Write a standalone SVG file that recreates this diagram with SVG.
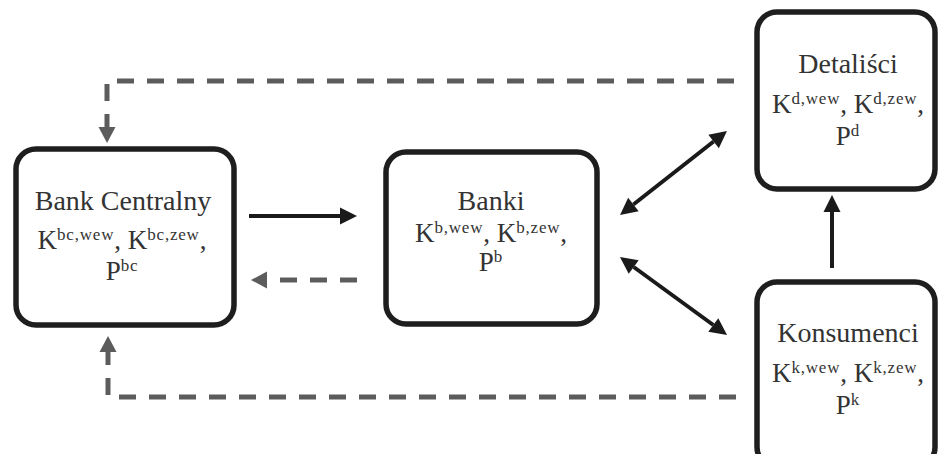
<svg xmlns="http://www.w3.org/2000/svg" width="938" height="454" viewBox="0 0 938 454">
  <style>
    .box { fill: #ffffff; stroke: #1e1e1e; stroke-width: 5.5; }
    text { font-family: 'Liberation Serif', 'DejaVu Serif', serif; fill: #333333; text-anchor: middle; }
    .title { font-size: 28px; }
    .vars { font-size: 27px; }
    .sup { font-size: 17px; letter-spacing: 0.8px; }
    .solid { fill: none; stroke: #1a1a1a; stroke-width: 4; }
    .dash { fill: none; stroke: #5c5c5c; stroke-width: 5; stroke-dasharray: 17 13; }
  </style>
  <defs>
    <marker id="head-black" markerUnits="userSpaceOnUse" markerWidth="18" markerHeight="18" refX="0" refY="8.5" orient="auto-start-reverse" overflow="visible">
      <path d="M0,0 L17,8.5 L0,17 Z" fill="#1a1a1a"/>
    </marker>
    <marker id="head-gray" markerUnits="userSpaceOnUse" markerWidth="18" markerHeight="18" refX="0" refY="8.5" orient="auto-start-reverse" overflow="visible">
      <path d="M0,0 L16,8.5 L0,17 Z" fill="#5c5c5c"/>
    </marker>
  </defs>

  <rect width="938" height="454" fill="#ffffff"/>

  <!-- connectors -->
  <g id="connectors">
    <!-- Bank Centralny -> Banki -->
    <path class="solid" d="M249,216 H340" marker-end="url(#head-black)"/>
    <!-- Banki -> Bank Centralny (feedback) -->
    <path class="dash" d="M357,280 H267" stroke-dasharray="16 14" marker-end="url(#head-gray)"/>
    <!-- Banki <-> Detaliści -->
    <path class="solid" d="M633.4,204.5 L713.6,141.5" marker-start="url(#head-black)" marker-end="url(#head-black)"/>
    <!-- Banki <-> Konsumenci -->
    <path class="solid" d="M633.7,267 L713.3,325" marker-start="url(#head-black)" marker-end="url(#head-black)"/>
    <!-- Konsumenci -> Detaliści -->
    <path class="solid" d="M832,268 V212" marker-end="url(#head-black)"/>
    <!-- Detaliści -> Bank Centralny (feedback, top) -->
    <path class="dash" d="M734,81 H107 V127" marker-end="url(#head-gray)"/>
    <!-- Konsumenci -> Bank Centralny (feedback, bottom) -->
    <path class="dash" d="M736,397 H108 V352" marker-end="url(#head-gray)"/>
  </g>

  <!-- Bank Centralny -->
  <g id="bank-centralny">
    <rect class="box" x="16" y="149" width="218" height="176" rx="20"/>
    <text class="title" x="123" y="210" font-family="Liberation Serif, serif">Bank Centralny</text>
    <text class="vars" x="122" y="249" font-family="Liberation Serif, serif">K<tspan class="sup" dy="-9">bc,wew</tspan><tspan dy="9">, K</tspan><tspan class="sup" dy="-9">bc,zew</tspan><tspan dy="9">,</tspan></text>
    <text class="vars" x="122" y="280" font-family="Liberation Serif, serif">P<tspan class="sup" dy="-9">bc</tspan></text>
  </g>

  <!-- Banki -->
  <g id="banki">
    <rect class="box" x="386" y="152" width="211" height="172" rx="20"/>
    <text class="title" x="491" y="210" font-family="Liberation Serif, serif">Banki</text>
    <text class="vars" x="491" y="242" font-family="Liberation Serif, serif">K<tspan class="sup" dy="-9">b,wew</tspan><tspan dy="9">, K</tspan><tspan class="sup" dy="-9">b,zew</tspan><tspan dy="9">,</tspan></text>
    <text class="vars" x="491" y="271" font-family="Liberation Serif, serif">P<tspan class="sup" dy="-9">b</tspan></text>
  </g>

  <!-- Detaliści -->
  <g id="detalisci">
    <rect class="box" x="757" y="12" width="178" height="177" rx="20"/>
    <text class="title" x="848" y="73" font-family="Liberation Serif, serif">Detaliści</text>
    <text class="vars" x="848" y="113" font-family="Liberation Serif, serif">K<tspan class="sup" dy="-9">d,wew</tspan><tspan dy="9">, K</tspan><tspan class="sup" dy="-9">d,zew</tspan><tspan dy="9">,</tspan></text>
    <text class="vars" x="848" y="145" font-family="Liberation Serif, serif">P<tspan class="sup" dy="-9">d</tspan></text>
  </g>

  <!-- Konsumenci -->
  <g id="konsumenci">
    <rect class="box" x="757" y="282" width="178" height="185" rx="20"/>
    <text class="title" x="848" y="342" font-family="Liberation Serif, serif">Konsumenci</text>
    <text class="vars" x="848" y="382" font-family="Liberation Serif, serif">K<tspan class="sup" dy="-9">k,wew</tspan><tspan dy="9">, K</tspan><tspan class="sup" dy="-9">k,zew</tspan><tspan dy="9">,</tspan></text>
    <text class="vars" x="848" y="414" font-family="Liberation Serif, serif">P<tspan class="sup" dy="-9">k</tspan></text>
  </g>
</svg>
